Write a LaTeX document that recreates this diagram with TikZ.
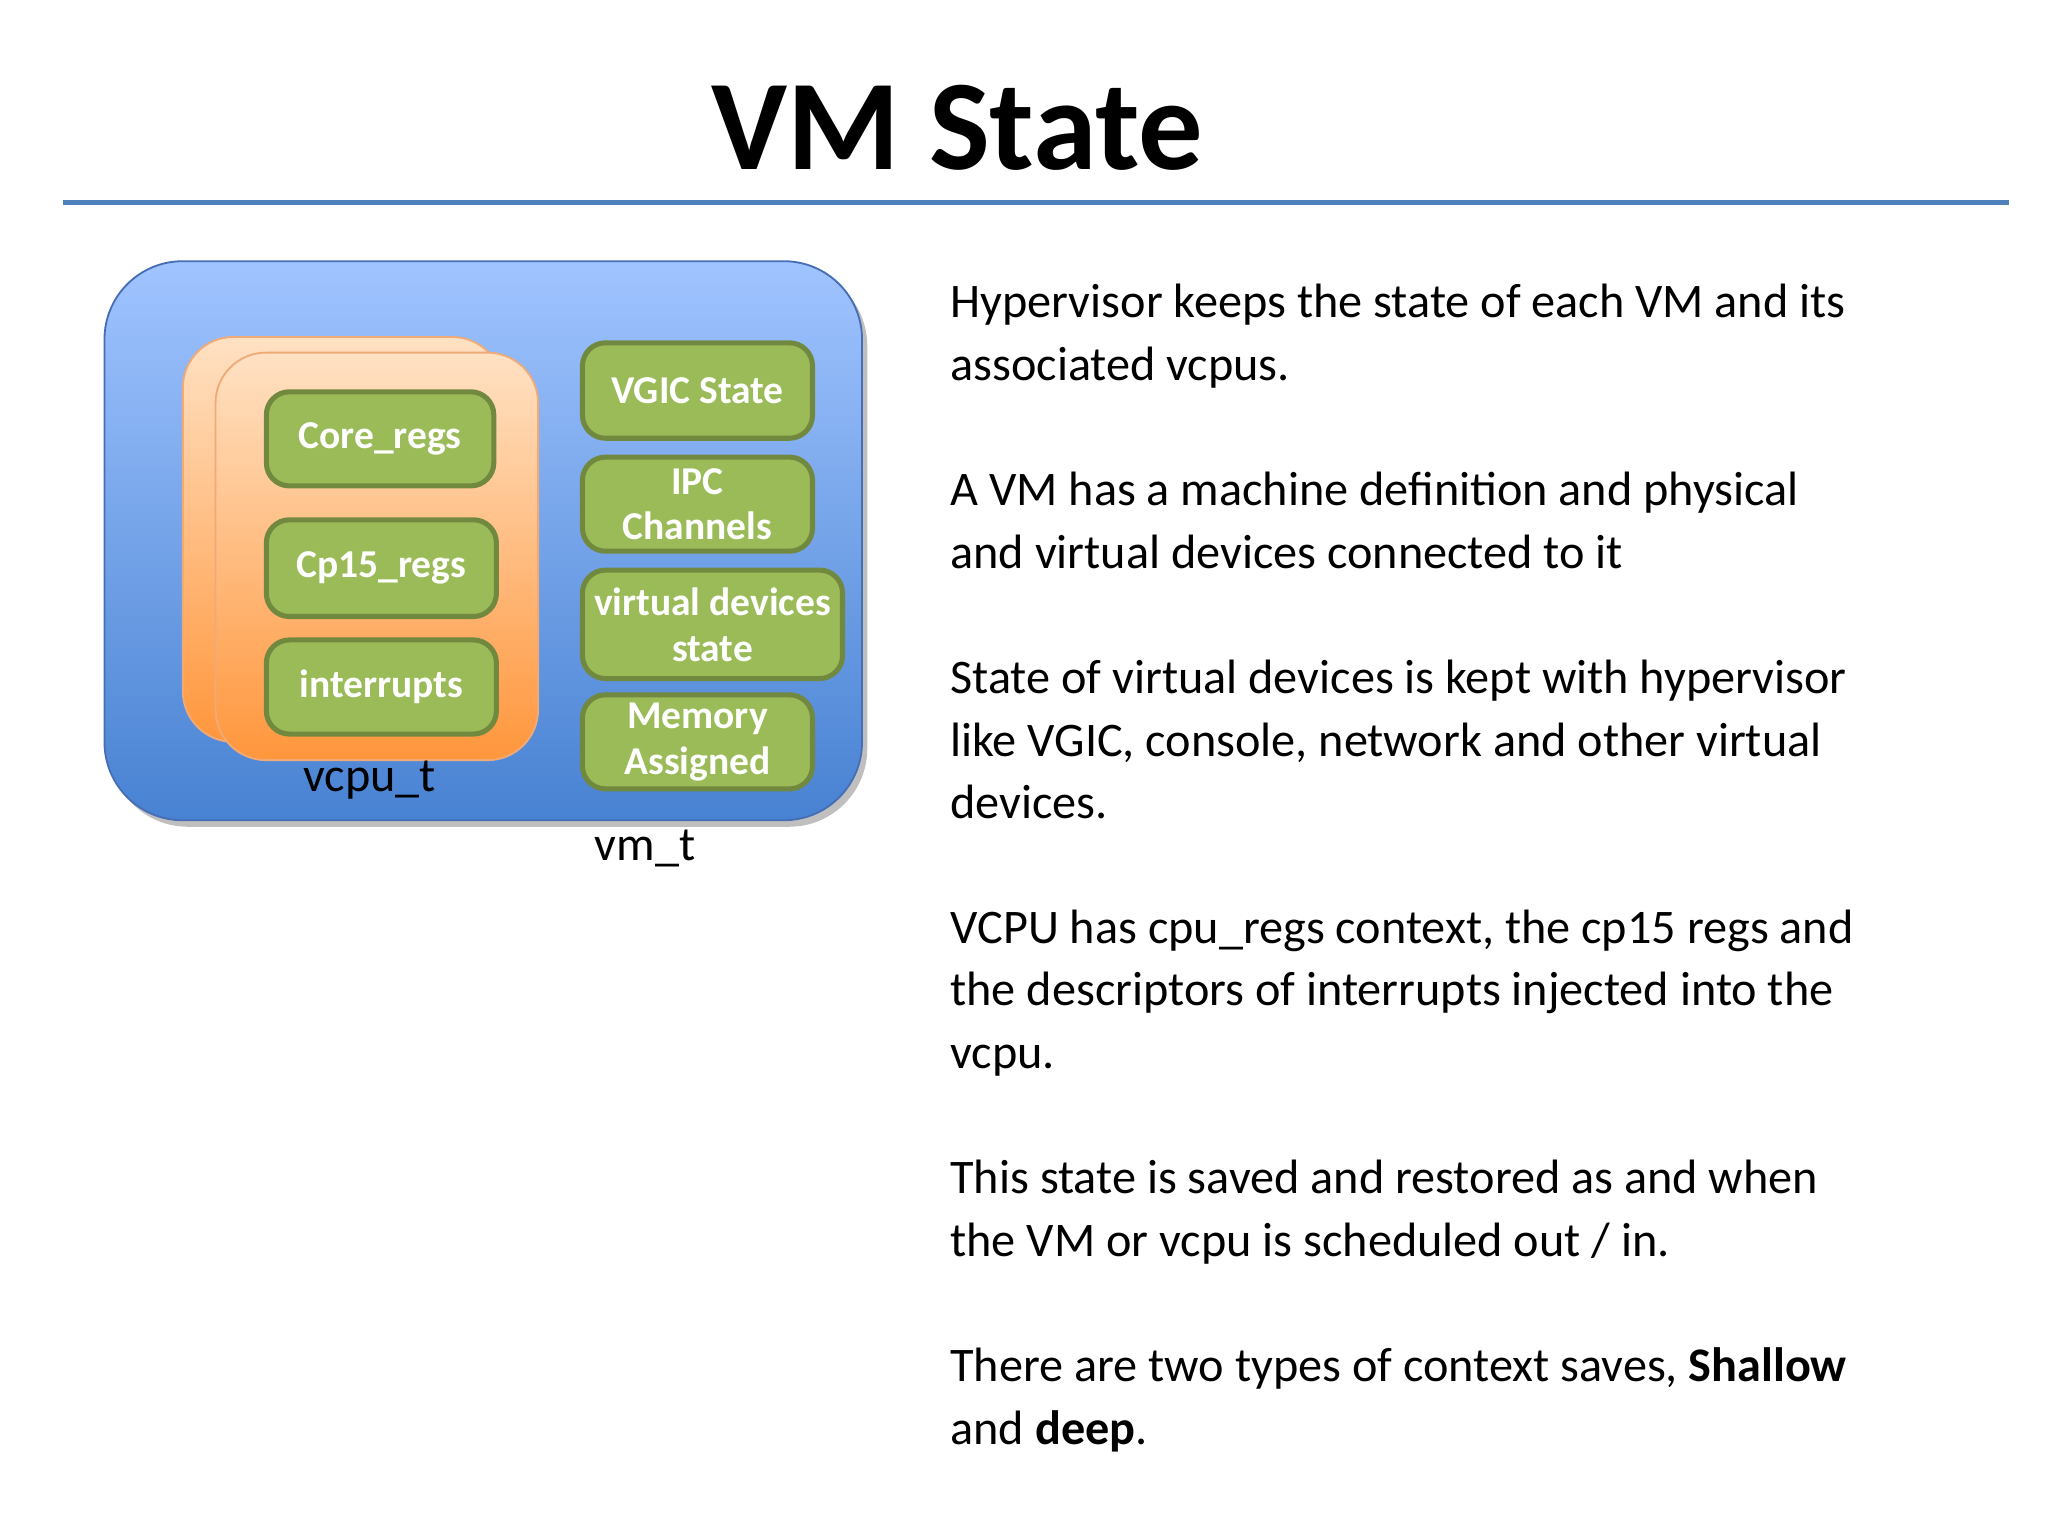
\documentclass[tikz,border=0pt]{standalone}
\usepackage{fontspec}
\setmainfont{Carlito}
\usetikzlibrary{shadows}
\definecolor{gfill}{HTML}{9BBB59}
\definecolor{gline}{HTML}{71893F}
\definecolor{rule}{HTML}{4F81BD}
\begin{document}
\begin{tikzpicture}[x=0.01cm,y=-0.01cm,
  gbox/.style={draw=gline,line width=1.1pt,fill=gfill,rounded corners=5pt,text=white,
    font=\fontsize{8.6pt}{10pt}\selectfont\bfseries,align=center,inner sep=0pt},
  card/.style={rounded corners=11pt,top color=orange!15!white!90!orange,bottom color={rgb,255:red,255;green,150;blue,60},draw={rgb,255:red,240;green,170;blue,120},line width=0.4pt},
  body/.style={anchor=base west,inner sep=0pt,font=\fontsize{10.5pt}{13pt}\selectfont}]
\useasboundingbox (0,0) rectangle (1568,1176);
\node[font=\fontsize{28pt}{30pt}\selectfont\bfseries,anchor=base,inner sep=0pt] (title) at (733,130) {VM State};
\draw[rule,line width=1.1pt] (48,155) coordinate (l1) -- (1538,155) coordinate (l2);
% vm_t
\fill[black!25,rounded corners=17pt] (84,205) rectangle (664,633);
\shade[rounded corners=17pt,top color={rgb,255:red,160;green,196;blue,255},bottom color={rgb,255:red,72;green,130;blue,210}] (80,200) rectangle (660,628);
\draw[rounded corners=17pt,draw={rgb,255:red,70;green,110;blue,180},line width=0.4pt] (80,200) rectangle (660,628);
% vcpu cards
\draw[card] (140,258) rectangle (385,568);
\draw[card] (165,270) rectangle (412,582);
\node[gbox,minimum width=1.74cm,minimum height=0.72cm] (core) at (291,336) {Core\_regs};
\node[gbox,minimum width=1.76cm,minimum height=0.74cm] (cp15) at (292,435) {Cp15\_regs};
\node[gbox,minimum width=1.76cm,minimum height=0.72cm] (intr) at (292,526) {interrupts};
\node[gbox,minimum width=1.76cm,minimum height=0.73cm] (vgic) at (534,299) {VGIC State};
\node[gbox,minimum width=1.76cm,minimum height=0.72cm] (ipc) at (534,386) {IPC\\Channels};
\node[gbox,minimum width=1.99cm,minimum height=0.83cm] (vdev) at (545.5,478) {virtual devices\\state};
\node[gbox,minimum width=1.76cm,minimum height=0.72cm] (mem) at (534,568) {Memory\\Assigned};
\node[font=\fontsize{10.5pt}{12pt}\selectfont] (vcpu) at (283,597) {vcpu\_t};
\node[font=\fontsize{10.5pt}{12pt}\selectfont] (vmt) at (494,650) {vm\_t};
% right text
\node[body] (p1a) at (727,243) {Hypervisor keeps the state of each VM and its};
\node[body] (p1b) at (727,291) {associated vcpus.};
\node[body] (p2a) at (727,387) {A VM has a machine definition and physical};
\node[body] (p2b) at (727,435) {and virtual devices connected to it};
\node[body] (p3a) at (727,531) {State of virtual devices is kept with hypervisor};
\node[body] (p3b) at (727,579) {like VGIC, console, network and other virtual};
\node[body] (p3c) at (727,627) {devices.};
\node[body] (p4a) at (727,722) {VCPU has cpu\_regs context, the cp15 regs and};
\node[body] (p4b) at (727,770) {the descriptors of interrupts injected into the};
\node[body] (p4c) at (727,818) {vcpu.};
\node[body] (p5a) at (727,914) {This state is saved and restored as and when};
\node[body] (p5b) at (727,962) {the VM or vcpu is scheduled out / in.};
\node[body] (p6a) at (727,1058) {There are two types of context saves, \textbf{Shallow}};
\node[body] (p6b) at (727,1106) {and \textbf{deep}.};
\end{tikzpicture}
\end{document}
